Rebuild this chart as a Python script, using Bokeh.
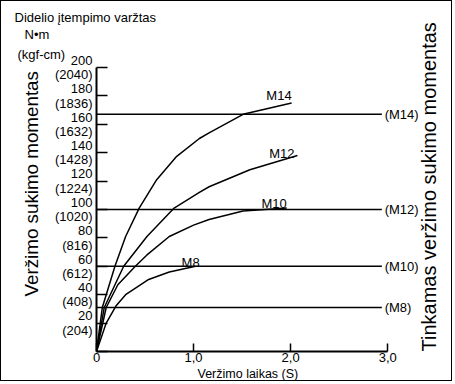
from math import pi
from bokeh.plotting import figure
from bokeh.models import Range1d, FixedTicker, LinearAxis, Title
from bokeh.embed import file_html
from bokeh.resources import INLINE
from bokeh.core.properties import value

# ---------------- data ----------------
y_ticks = [0, 20, 40, 60, 80, 100, 120, 140, 160, 180, 200]
y_tick_labels = ["", "20\n(204)", "40\n(408)", "60\n(612)", "80\n(816)", "100\n(1020)",
                 "120\n(1224)", "140\n(1428)", "160\n(1632)", "180\n(1836)", "200\n(2040)"]
x_ticks = [0, 1, 2, 3]
x_tick_labels = ["0", "1,0", "2,0", "3,0"]

m14_t = [0, 0.06, 0.19, 0.30, 0.44, 0.62, 0.82, 1.06, 1.16, 1.51, 2.01]
m14_v = [0, 31, 60, 81, 101, 121, 137, 150, 154, 167, 175]
m12_t = [0, 0.08, 0.28, 0.52, 0.80, 1.06, 1.16, 1.58, 2.07]
m12_v = [0, 31, 60, 81, 101, 112, 116, 128, 138]
m10_t = [0, 0.10, 0.22, 0.40, 0.52, 0.75, 1.00, 1.16, 1.51, 1.96]
m10_v = [0, 31, 47, 60, 68, 81, 89, 93, 99, 101]
m8_t = [0, 0.10, 0.20, 0.30, 0.53, 0.75, 1.02]
m8_v = [0, 20, 32, 40, 50.5, 56, 60]
curve_names = ["M14", "M12", "M10", "M8"]

ref_names = ["(M14)", "(M12)", "(M10)", "(M8)"]
ref_values = [167, 100, 60, 31]
ref_line_end = 2.94

# ---------------- figure ----------------
FONT = "Liberation Sans"
FS = "13px"
p = figure(width=452, height=381, output_backend="svg", toolbar_location=None,
           x_range=Range1d(0, 3.338), y_range=Range1d(0, 202.8),
           min_border_left=95, min_border_right=31, min_border_top=62, min_border_bottom=31)
p.styles = {"border": "1px solid black"}
p.background_fill_color = "white"
p.border_fill_color = "white"
p.outline_line_color = None
p.grid.visible = False

# x axis
xa = p.xaxis[0]
xa.ticker = FixedTicker(ticks=x_ticks)
xa.major_label_overrides = {t: l for t, l in zip(x_ticks, x_tick_labels)}
xa.bounds = (0, 3)
xa.major_tick_in = 8
xa.major_tick_out = 0
xa.minor_tick_in = 0
xa.minor_tick_out = 0
xa.axis_line_width = 2
xa.major_tick_line_width = 1.5
xa.major_label_standoff = 1
xa.major_label_text_font = FONT
xa.major_label_text_font_size = FS
xa.major_label_text_color = "black"

# y axis with two-line labels
ya = p.yaxis[0]
ya.ticker = FixedTicker(ticks=y_ticks)
ya.major_label_overrides = {t: l for t, l in zip(y_ticks, y_tick_labels)}
ya.bounds = (0, 200)
ya.major_tick_in = 11
ya.major_tick_out = 0
ya.minor_tick_in = 0
ya.minor_tick_out = 0
ya.axis_line_width = 2
ya.major_tick_line_width = 1.5
ya.major_label_standoff = 4
ya.major_label_text_font = FONT
ya.major_label_text_font_size = FS
ya.major_label_text_color = "black"
ya.major_label_text_line_height = 0.95

# left title (rotated)
p.add_layout(Title(text="Veržimo sukimo momentas", align="left", offset=55,
                   vertical_align="middle", standoff=18, text_font=FONT,
                   text_font_size="18.8px", text_font_style="normal", text_color="black"), "left")

# right title (rotated, reading upward) drawn as a single tick label on a bare right axis
right_title = "Tinkamas veržimo sukimo momentas"
ra = LinearAxis(ticker=FixedTicker(ticks=[0]),
                major_label_overrides={0: right_title},
                axis_line_color=None, major_tick_line_color=None, minor_tick_line_color=None,
                major_tick_in=0, major_tick_out=0, minor_tick_in=0, minor_tick_out=0,
                major_label_standoff=8, major_label_orientation=pi / 2,
                major_label_text_font=FONT, major_label_text_font_size="20px",
                major_label_text_color="black")
p.add_layout(ra, "right")

# top titles (nearest the frame first), then a small spacer at the very top
for txt, off, sd in [("(kgf-cm)", -79, 4), ("N•m", -72, 1), ("Didelio įtempimo varžtas", -82, 0)]:
    p.add_layout(Title(text=txt, align="left", offset=off, standoff=sd, text_font=FONT,
                       text_font_size=FS, text_font_style="normal",
                       text_color="black"), "above")
p.add_layout(Title(text=" ", standoff=0, text_font_size="8px", text_alpha=0), "above")

# x title
p.add_layout(Title(text="Veržimo laikas (S)", align="left", offset=101, standoff=0,
                   vertical_align="bottom", text_font=FONT, text_font_size="12.5px",
                   text_font_style="normal", text_color="black"), "below")

# reference (recommended torque) lines
for v in ref_values:
    p.line([0, ref_line_end], [v, v], line_color="black", line_width=1.5)
p.text(x=[2.969] * len(ref_values), y=ref_values, text=ref_names,
       text_font=value(FONT), text_font_size=FS, text_align="left",
       text_baseline="middle", text_color="black")

# curves
for t, v in [(m14_t, m14_v), (m12_t, m12_v), (m10_t, m10_v), (m8_t, m8_v)]:
    p.line(t, v, line_color="black", line_width=1.5, line_join="round")
p.text(x=[1.88, 1.91, 1.83, 0.97], y=[180, 139.5, 104.5, 63], text=curve_names,
       text_font=value(FONT), text_font_size=FS, text_align="center",
       text_baseline="alphabetic", text_color="black")

open("out.html", "w").write(file_html(p, INLINE))
